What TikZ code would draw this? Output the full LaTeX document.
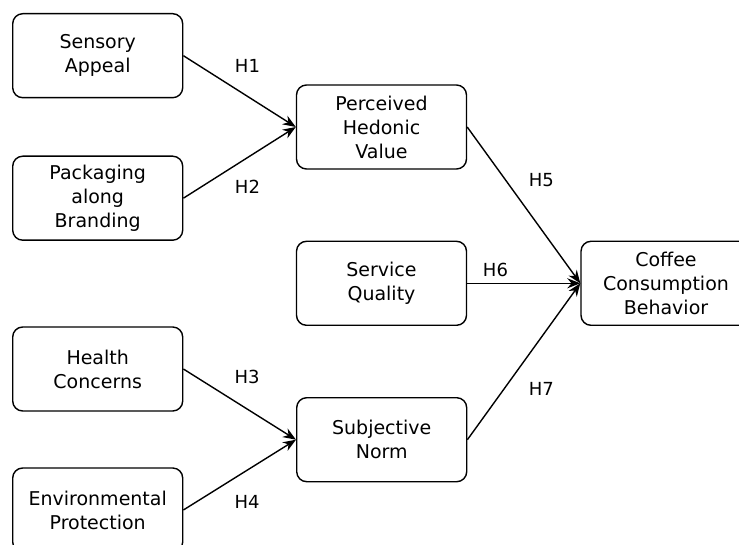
\documentclass[tikz,border=0pt]{standalone}
\usepackage{fontspec}
\setmainfont{DejaVu Sans}
\usetikzlibrary{arrows.meta}

\begin{document}
\begin{tikzpicture}[x=0.5pt, y=-0.5pt,
  construct/.style={draw, rounded corners=5pt, line width=0.7pt, minimum width=85pt, minimum height=42pt, align=center, font=\fontsize{9.5}{12}\selectfont},
  hyp/.style={font=\fontsize{9}{10}\selectfont, inner sep=0pt}]
  \clip (0,0) rectangle (739,545);
  \node[construct] (sa)  at (97.7,55.7)  {Sensory\\Appeal};
  \node[construct] (pb)  at (97.7,198.2) {Packaging\\along\\Branding};
  \node[construct] (hc)  at (97.7,369)   {Health\\Concerns};
  \node[construct] (ep)  at (97.7,510)   {Environmental\\Protection};
  \node[construct] (phv) at (381.5,127)  {Perceived\\Hedonic\\Value};
  \node[construct] (sq)  at (381.5,283.3) {Service\\Quality};
  \node[construct] (sn)  at (381.7,439.7) {Subjective\\Norm};
  \node[construct] (ccb) at (666,283.3)  {Coffee\\Consumption\\Behavior};
  \path[-{Stealth[length=6.5pt,width=5pt]}, line width=0.7pt]
  (sa.east)  edge node[hyp, pos=0.57, above=11.5pt] {H1} (phv.west)
  (pb.east)  edge node[hyp, pos=0.57, below=11pt] {H2} (phv.west)
  (hc.east)  edge node[hyp, pos=0.565, above=12pt] {H3} (sn.west)
  (ep.east)  edge node[hyp, pos=0.565, below=12pt] {H4} (sn.west)
  (phv.east) edge node[hyp, pos=0.45, above right=5pt] {H5} (ccb.west)
  (sq.east)  edge node[hyp, pos=0.25, above=3pt] {H6} (ccb.west)
  (sn.east)  edge node[hyp, pos=0.44, below right=5.5pt] {H7} (ccb.west)
  ;
\end{tikzpicture}
\end{document}
